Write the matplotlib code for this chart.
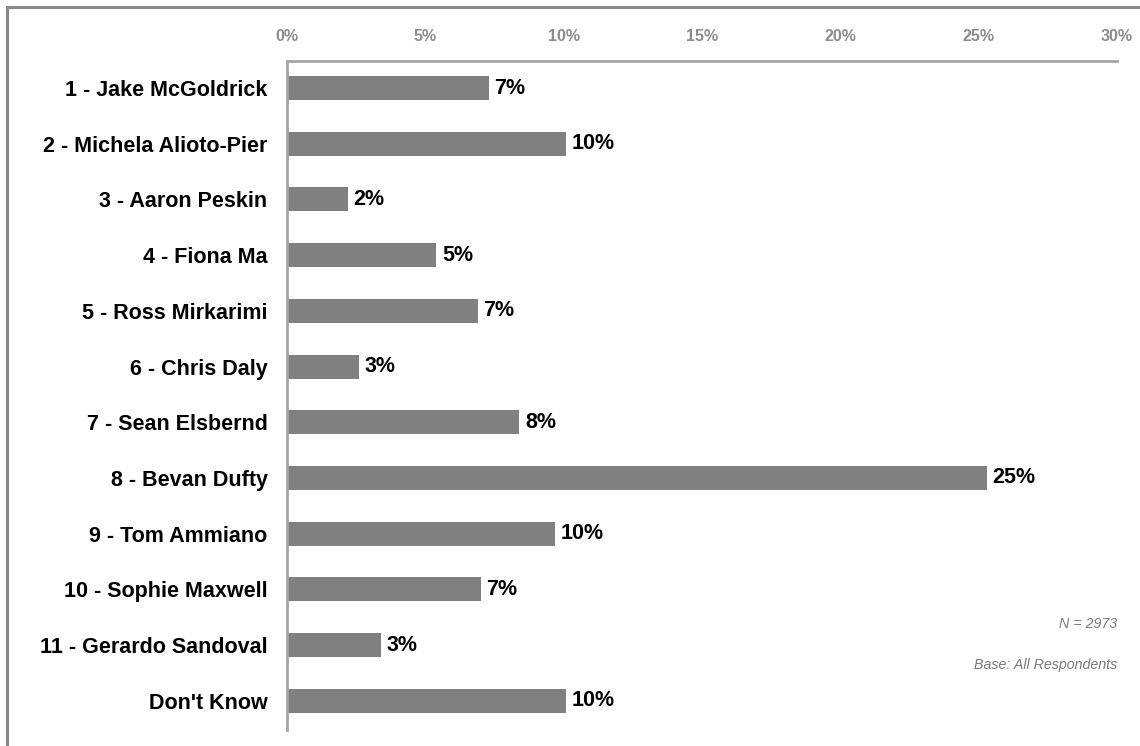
import matplotlib.pyplot as plt
import matplotlib.lines as mlines
import numpy as np

candidates = [
    '1 - Jake McGoldrick',
    '2 - Michela Alioto-Pier',
    '3 - Aaron Peskin',
    '4 - Fiona Ma',
    '5 - Ross Mirkarimi',
    '6 - Chris Daly',
    '7 - Sean Elsbernd',
    '8 - Bevan Dufty',
    '9 - Tom Ammiano',
    '10 - Sophie Maxwell',
    '11 - Gerardo Sandoval',
    "Don't Know",
]
share = [7.3, 10.1, 2.2, 5.4, 6.9, 2.6, 8.4, 25.3, 9.7, 7.0, 3.4, 10.1]
ticks = [0, 5, 10, 15, 20, 25, 30]

plt.rcParams['font.family'] = ['Liberation Sans', 'DejaVu Sans']

fig = plt.figure(figsize=(11.4, 7.46), dpi=100)
ax = fig.add_axes([0.2518, 0.0214, 0.728, 0.8968])

y_pos = np.arange(len(candidates))
bars = ax.barh(y_pos, share, height=0.43, color='#808080')
ax.set_ylim(len(candidates) - 0.474, -0.485)
ax.set_xlim(0, 30)

ax.set_yticks(y_pos, labels=candidates)
ax.set_xticks(ticks, labels=[f'{t}%' for t in ticks])
ax.xaxis.tick_top()
ax.tick_params(axis='x', length=0, pad=12.5, labelsize=11.5,
               labelcolor='#8c8c8c')
ax.tick_params(axis='y', length=0, pad=14, labelsize=15.5)
for lbl in ax.get_xticklabels():
    lbl.set_fontweight('bold')
for lbl in ax.get_yticklabels():
    lbl.set_fontweight('bold')

for side in ('right', 'bottom'):
    ax.spines[side].set_visible(False)
for side in ('top', 'left'):
    ax.spines[side].set_color('#a6a6a6')
    ax.spines[side].set_linewidth(2)

ax.bar_label(bars, labels=[f'{v:.0f}%' for v in share], padding=4,
             fontsize=15.5, fontweight='bold')

note = dict(transform=ax.transAxes, ha='right', va='center', fontsize=10.3,
            style='italic', color='#7a7a7a')
ax.text(1.0, 0.158, 'N = 2973', **note)
ax.text(1.0, 0.097, 'Base: All Respondents', **note)

# frame along the top and left of the figure
fig.add_artist(mlines.Line2D([7 / 1140, 1], [1 - 7 / 746, 1 - 7 / 746],
                             color='#8a8a8a', lw=2.2))
fig.add_artist(mlines.Line2D([7 / 1140, 7 / 1140], [0, 1 - 7 / 746],
                             color='#8a8a8a', lw=2.2))

fig.savefig('out.png', dpi=100)
